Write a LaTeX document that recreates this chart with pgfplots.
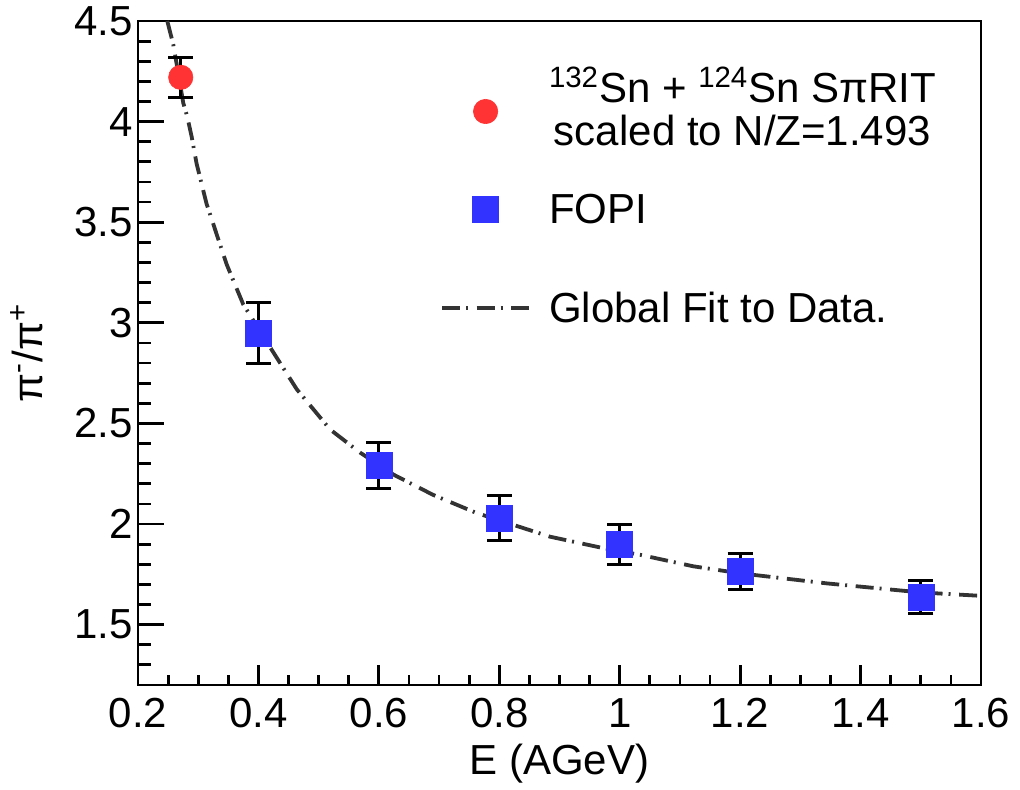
\documentclass[border=0pt]{standalone}
\usepackage{pgfplots}
\pgfplotsset{compat=1.18}
\usepackage{fontspec}
\setmainfont{Liberation Sans}
\definecolor{rootred}{HTML}{FF3333}
\definecolor{rootblue}{HTML}{3333FF}
\definecolor{fitgray}{HTML}{333333}
\pgfplotsset{
  marklegend/.style={legend image code/.code={\path[draw=none,fill=none] (0pt,-1pt) rectangle (43.5pt,1pt); \draw[##1] plot coordinates {(21.75pt,0pt)};}},
  linelegend/.style={legend image code/.code={\draw[##1] (0pt,0pt) -- (43.5pt,0pt);}},
}
\begin{document}
\fontsize{21}{21.5}\selectfont
\begin{tikzpicture}
\path[use as bounding box] (-69pt,-52.5pt) rectangle (441pt,342.5pt);
\begin{axis}[
  at={(0,0)}, anchor=south west,
  scale only axis, width=421.5pt, height=332pt,
  xmin=0.2, xmax=1.6, ymin=1.2, ymax=4.5,
  xtick={0.2,0.4,0.6,0.8,1,1.2,1.4,1.6},
  ytick={1.5,2,2.5,3,3.5,4,4.5},
  minor xtick={0.25,0.3,0.35,0.45,0.5,0.55,0.65,0.7,0.75,0.85,0.9,0.95,1.05,1.1,1.15,1.25,1.3,1.35,1.45,1.5,1.55},
  minor ytick={1.3,1.4,1.6,1.7,1.8,1.9,2.1,2.2,2.3,2.4,2.6,2.7,2.8,2.9,3.1,3.2,3.3,3.4,3.6,3.7,3.8,3.9,4.1,4.2,4.3,4.4},
  tick pos=left, tick align=inside,
  xtick style={/pgfplots/major tick length=10pt,/pgfplots/minor tick length=5pt},
  ytick style={/pgfplots/major tick length=13pt,/pgfplots/minor tick length=6.5pt},
  tick style={line width=1.4pt, black},
  axis line style={line width=1.4pt},
  /pgf/number format/assume math mode=true,
  xticklabel style={anchor=base, inner sep=0pt, yshift=-21pt},
  yticklabel style={anchor=east, inner sep=0pt, xshift=-2.5pt},
  every axis x label/.style={at={(axis description cs:0.5,-0.1355)}, anchor=base},
  every axis y label/.style={at={(axis description cs:-0.1127,0.5)}, rotate=90, anchor=base},
  xlabel={E (AGeV)},
  ylabel={π\textsuperscript{-}/π\textsuperscript{+}},
  legend style={at={(0.358,0.9413)}, anchor=north west, draw=none, fill=none,
    inner sep=0pt, row sep=13.9pt, column sep=7pt,
    nodes={inner sep=2pt, text depth=}, cells={anchor=west}},
]
% Global fit (drawn first, listed last in legend)
\addplot[fitgray, line width=1.9pt, dash pattern=on 9pt off 3pt on 1pt off 4.3pt, forget plot] coordinates {
(0.2486,4.50) (0.2586,4.383) (0.2680,4.22) (0.2752,4.092) (0.2818,4.025)
(0.2891,3.925) (0.2974,3.79) (0.3057,3.69) (0.3140,3.59) (0.3251,3.49)
(0.3362,3.39) (0.3473,3.29) (0.3611,3.19) (0.3750,3.09) (0.3888,3.025)
(0.40,2.97) (0.4636,2.67) (0.519,2.47) (0.5688,2.355) (0.6247,2.245)
(0.690,2.145) (0.762,2.055) (0.8844,1.937) (0.973,1.88) (1.034,1.847)
(1.122,1.79) (1.20,1.755) (1.344,1.705) (1.50,1.66) (1.60,1.643)
};
% SpiRIT
\addplot[only marks, mark=*, mark size=6.1pt, mark options={draw=rootred, fill=rootred, line width=0.3pt},
  marklegend,
  error bars/.cd, y dir=both, y explicit,
  error bar style={line width=1.5pt, black},
  error mark options={rotate=90, mark size=6.3pt, line width=1.5pt, black}]
  coordinates {(0.271,4.22) +- (0,0.10)};
\addlegendentry{\begin{tabular}{@{}c@{}}\rule{0pt}{19pt}\textsuperscript{132}Sn + \textsuperscript{124}Sn SπRIT\\scaled to N/Z=1.493\end{tabular}}
% FOPI
\addplot[only marks, mark=square*, mark size=6.5pt, mark options={draw=rootblue, fill=rootblue, line width=0.3pt},
  marklegend,
  error bars/.cd, y dir=both, y explicit,
  error bar style={line width=1.5pt, black},
  error mark options={rotate=90, mark size=6.3pt, line width=1.5pt, black}]
  coordinates {
  (0.4,2.95) +- (0,0.15)
  (0.6,2.29) +- (0,0.113)
  (0.8,2.03) +- (0,0.112)
  (1.0,1.90) +- (0,0.10)
  (1.2,1.765) +- (0,0.09)
  (1.5,1.638) +- (0,0.082)
  };
\addlegendentry{FOPI}
\addlegendimage{fitgray, line width=1.9pt, dash pattern=on 9pt off 3pt on 1pt off 4.3pt, linelegend}
\addlegendentry{Global Fit to Data.\rule[-16.5pt]{0pt}{48pt}}
\end{axis}
\end{tikzpicture}
\end{document}
